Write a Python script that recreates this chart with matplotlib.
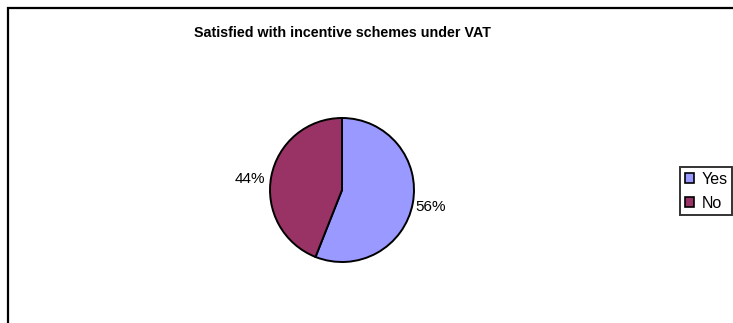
import numpy as np
import matplotlib.pyplot as plt
from matplotlib.patches import Rectangle, Patch

plt.rcParams['font.family'] = ['Liberation Sans', 'DejaVu Sans']

# survey answers
answers = ['Yes', 'No']
shares = [56, 44]
colors = ['#9999ff', '#993366']
title = 'Satisfied with incentive schemes under VAT'

W, H = 733, 323
fig = plt.figure(figsize=(W / 100, H / 100), dpi=100)

# axes in pixel units so the pie can be placed directly
ax = fig.add_axes([0, 0, 1, 1])

# outer chart frame (runs off the right and bottom edges)
ax.add_patch(Rectangle((8, -20), W + 20, H - 8 + 20, fill=False,
                       edgecolor='black', linewidth=1.6, clip_on=True))

cx, cy, r = 342, H - 190, 72
wedges, _ = ax.pie(shares, colors=colors,
                   startangle=90, counterclock=False,
                   center=(cx, cy), radius=r, frame=True,
                   wedgeprops=dict(edgecolor='black', linewidth=1.4))
ax.set_xlim(0, W)
ax.set_ylim(0, H)
ax.set_aspect('equal')
ax.axis('off')

# percentage labels just outside the rim, Excel style
for w, s in zip(wedges, shares):
    mid = np.deg2rad((w.theta1 + w.theta2) / 2)
    x = cx + (r + 3) * np.cos(mid)
    y = cy + (r + 3) * np.sin(mid)
    if np.cos(mid) < 0:
        ax.text(x - 3, cy + 11, '%d%%' % s, ha='right', va='center', fontsize=11)
    else:
        ax.text(x, y - 3, '%d%%' % s, ha='left', va='center', fontsize=11)

ax.text(cx, H - 33, title, ha='center', va='center',
        fontsize=10.3, fontweight='bold')

handles = [Patch(facecolor=c, edgecolor='black', linewidth=1.2) for c in colors]
leg = fig.legend(handles, answers, loc='upper left',
                 bbox_to_anchor=(680 / W, 1 - 167 / H),
                 fontsize=11.5, frameon=True, fancybox=False,
                 handlelength=0.55, handleheight=0.55, handletextpad=0.5,
                 borderpad=0.3, labelspacing=0.55, borderaxespad=0)
leg.get_frame().set_edgecolor('black')
leg.get_frame().set_linewidth(1.4)

fig.savefig('out.png', dpi=100)
